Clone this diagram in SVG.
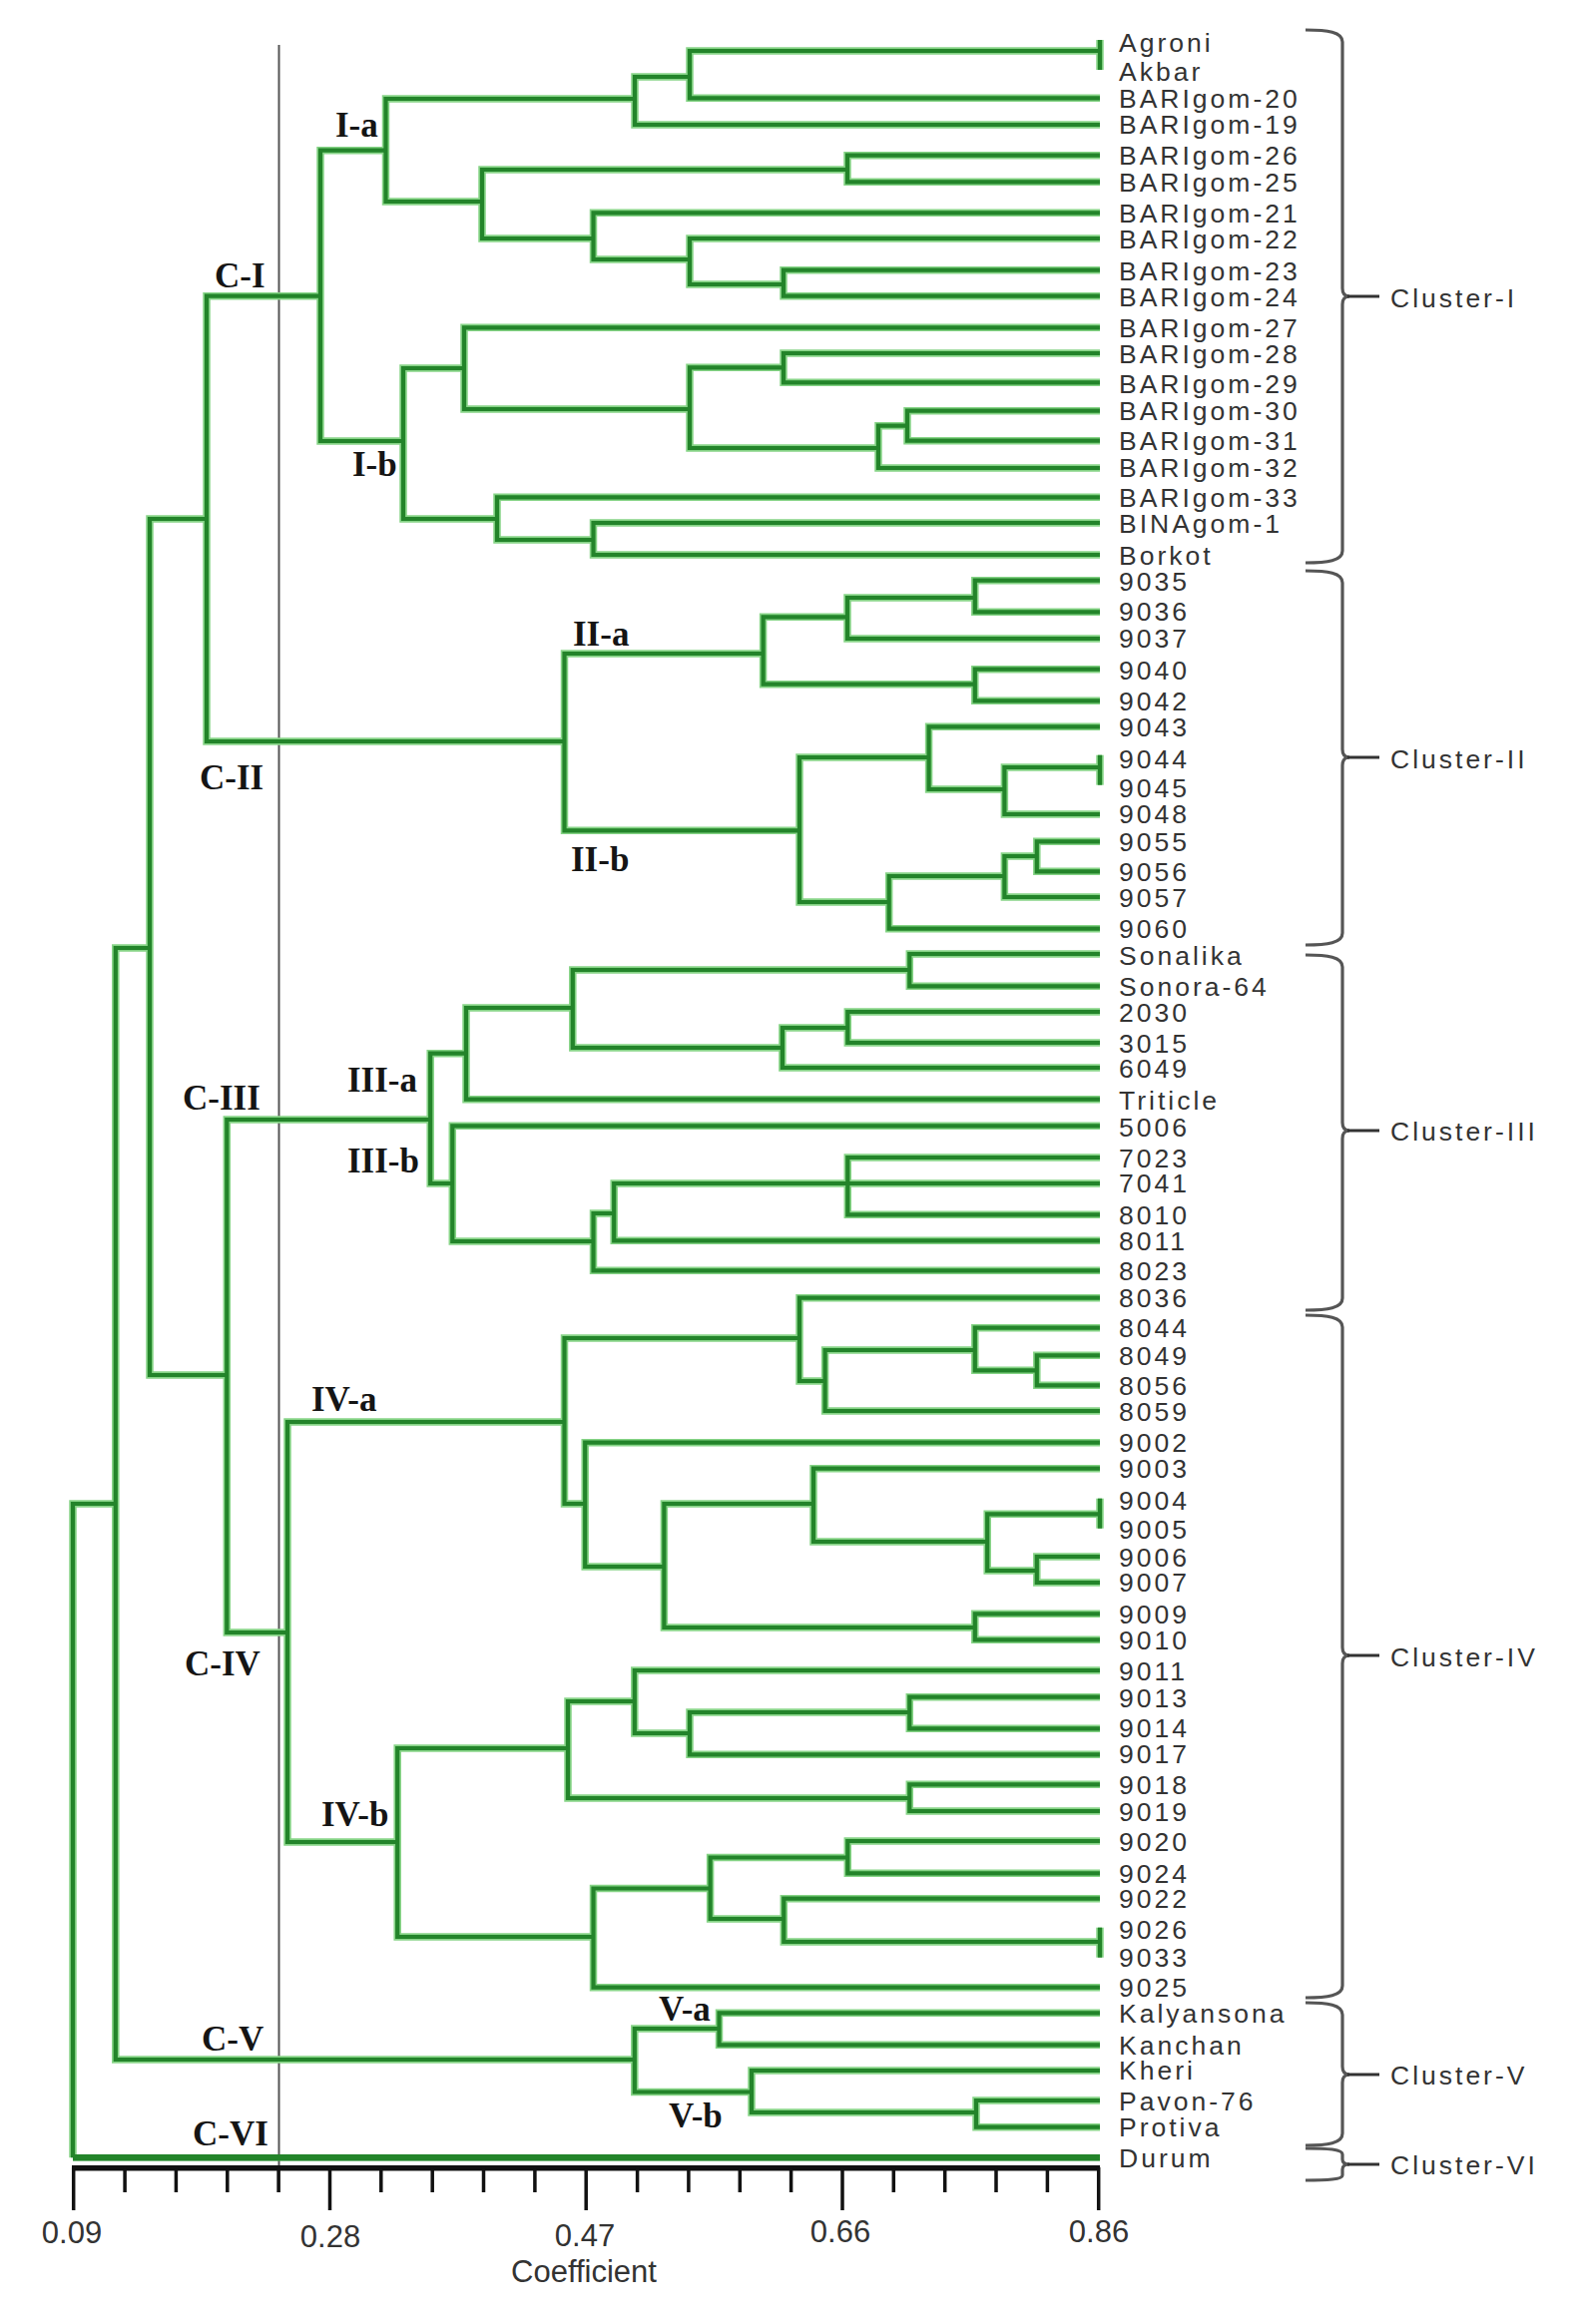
<svg xmlns="http://www.w3.org/2000/svg" xmlns:xlink="http://www.w3.org/1999/xlink" width="1585" height="2329" viewBox="0 0 1585 2329">
<style>
.leaf text{font-family:"Liberation Sans",Arial,sans-serif;font-size:26.5px;letter-spacing:3px;fill:#333}
.clabel{font-family:"Liberation Sans",Arial,sans-serif;font-size:26.5px;letter-spacing:3px;fill:#333}
.sub{font-family:"Liberation Serif","Times New Roman",serif;font-size:35px;font-weight:bold;fill:#151515}
.axt{font-family:"Liberation Sans",Arial,sans-serif;font-size:31px;fill:#333;text-anchor:middle}
.halo{fill:none;stroke:#86d486;stroke-width:7.5}
.core{fill:none;stroke:#23842a;stroke-width:4.2}
.brace{fill:none;stroke:#555;stroke-width:3.2}
.tip{fill:none;stroke:#333;stroke-width:3}
.tick{stroke:#111;stroke-width:3.5}
</style>
<defs>
<g id="tree-paths">
<path d="M1102,51 H691 V98.3 H1102"/>
<path d="M1102,40 V70"/>
<path d="M691,77 H636 V125 H1102"/>
<path d="M1102,155.7 H849 V182.3 H1102"/>
<path d="M1102,270.7 H785 V296.7 H1102"/>
<path d="M1102,239 H691 V285 H785"/>
<path d="M1102,213.3 H594.5 V260 H691"/>
<path d="M849,170 H483 V239 H594.5"/>
<path d="M636,99 H386.5 V202 H483"/>
<path d="M1102,354 H785 V383.3 H1102"/>
<path d="M1102,411.7 H909 V441.7 H1102"/>
<path d="M909,426.7 H880 V469 H1102"/>
<path d="M785,368.3 H691 V449 H880"/>
<path d="M1102,328.3 H465 V410 H691"/>
<path d="M1102,524 H594.5 V556 H1102"/>
<path d="M1102,498.3 H498 V541 H594.5"/>
<path d="M465,369 H404 V520 H498"/>
<path d="M386.5,150.7 H321 V442 H404"/>
<path d="M321,296.7 H207 V743 H565.5"/>
<path d="M1102,581.7 H976.8 V613.3 H1102"/>
<path d="M976.8,599 H849 V640 H1102"/>
<path d="M1102,670.7 H976.8 V702.3 H1102"/>
<path d="M849,618.3 H764.6 V685.7 H976.8"/>
<path d="M1102,756.7 V786.7"/>
<path d="M1102,769 H1006.4 V816 H1102"/>
<path d="M1102,728.3 H930.6 V791 H1006.4"/>
<path d="M1102,843.3 H1038.8 V873.3 H1102"/>
<path d="M1038.8,858 H1006.4 V899 H1102"/>
<path d="M1006.4,878 H890.7 V930.7 H1102"/>
<path d="M930.6,759 H801 V904 H890.7"/>
<path d="M764.6,655 H565.5 V832.3 H801"/>
<path d="M207,520 H150 V1378 H227.3"/>
<path d="M1102,956 H911.3 V988.3 H1102"/>
<path d="M1102,1014 H849.3 V1045 H1102"/>
<path d="M849.3,1030 H783.9 V1070 H1102"/>
<path d="M911.3,972 H573.8 V1050 H783.9"/>
<path d="M573.8,1010 H467 V1101.7 H1102"/>
<path d="M1102,1160 H849.3 V1217.3 H1102"/>
<path d="M1102,1186 H615.2 V1243.3 H1102"/>
<path d="M615.2,1216 H594.5 V1273.3 H1102"/>
<path d="M1102,1128.3 H453.3 V1244 H594.5"/>
<path d="M467,1055.7 H431.2 V1186 H453.3"/>
<path d="M431.2,1122 H227.3 V1636 H288"/>
<path d="M1102,1358.3 H1038.8 V1388.3 H1102"/>
<path d="M1102,1330.7 H976.8 V1373.3 H1038.8"/>
<path d="M976.8,1353 H826.6 V1414 H1102"/>
<path d="M1102,1300.7 H801 V1384 H826.6"/>
<path d="M1102,1501.7 V1531.7"/>
<path d="M1102,1560 H1038.8 V1586 H1102"/>
<path d="M1102,1517.3 H989.2 V1574 H1038.8"/>
<path d="M1102,1471.7 H815 V1545 H989.2"/>
<path d="M1102,1617.3 H976.8 V1643.3 H1102"/>
<path d="M815,1507 H665.4 V1631 H976.8"/>
<path d="M1102,1445.7 H586.2 V1570 H665.4"/>
<path d="M801,1341 H565.5 V1507 H586.2"/>
<path d="M1102,1700.7 H911.3 V1732.3 H1102"/>
<path d="M911.3,1716 H691 V1758.3 H1102"/>
<path d="M1102,1674 H635.8 V1737 H691"/>
<path d="M1102,1788.3 H911.3 V1815 H1102"/>
<path d="M635.8,1705 H569 V1802 H911.3"/>
<path d="M1102,1845 H849.3 V1877.3 H1102"/>
<path d="M1102,1931.7 V1961.7"/>
<path d="M1102,1902.7 H785.3 V1946 H1102"/>
<path d="M849.3,1861.5 H711.6 V1923 H785.3"/>
<path d="M711.6,1892.5 H594.5 V1991.7 H1102"/>
<path d="M569,1752 H398.2 V1941 H594.5"/>
<path d="M565.5,1425 H288 V1846 H398.2"/>
<path d="M1102,2017.3 H720.5 V2049.3 H1102"/>
<path d="M1102,2105 H978 V2131.7 H1102"/>
<path d="M1102,2075 H753 V2117 H978"/>
<path d="M720.5,2033 H635.8 V2096.5 H753"/>
<path d="M150,950 H115.8 V2064 H635.8"/>
<path d="M115.8,1507 H73 V2162.3"/>
<path d="M73,2162.3 H1102" stroke-width="6.5"/>
</g>
</defs>
<rect width="1585" height="2329" fill="#ffffff"/>

<g id="reference-line">
<line x1="279.5" y1="45" x2="279.5" y2="2197" stroke="#555" stroke-width="2"/>
</g>

<g id="connectors">
<use xlink:href="#tree-paths" href="#tree-paths" class="halo"/>
<use xlink:href="#tree-paths" href="#tree-paths" class="core"/>
</g>

<g id="axis">
<line x1="72" y1="2172.7" x2="1102" y2="2172.7" stroke="#111" stroke-width="5.5"/>
<path class="tick" d="M73.7,2172 V2215 M125.1,2172 V2197 M176.4,2172 V2197 M227.8,2172 V2197 M279.1,2172 V2197 M330.5,2172 V2215 M381.8,2172 V2197 M433.2,2172 V2197 M484.5,2172 V2197 M535.9,2172 V2197 M587.2,2172 V2215 M638.6,2172 V2197 M689.9,2172 V2197 M741.3,2172 V2197 M792.6,2172 V2197 M844,2172 V2215 M895.3,2172 V2197 M946.7,2172 V2197 M998,2172 V2197 M1049.4,2172 V2197 M1100.7,2172 V2215"/>
<text class="axt" x="72" y="2248">0.09</text>
<text class="axt" x="331" y="2252">0.28</text>
<text class="axt" x="586" y="2251">0.47</text>
<text class="axt" x="842" y="2247">0.66</text>
<text class="axt" x="1101" y="2247">0.86</text>
<text class="axt" x="585" y="2287">Coefficient</text>
</g>

<g id="subcluster-labels">
<g id="lbl-C-I"><text class="sub" x="215" y="288">C-I</text></g>
<g id="lbl-I-a"><text class="sub" x="336" y="137">I-a</text></g>
<g id="lbl-I-b"><text class="sub" x="353" y="477">I-b</text></g>
<g id="lbl-II-a"><text class="sub" x="574" y="647">II-a</text></g>
<g id="lbl-C-II"><text class="sub" x="200" y="791">C-II</text></g>
<g id="lbl-II-b"><text class="sub" x="572" y="873">II-b</text></g>
<g id="lbl-III-a"><text class="sub" x="348" y="1094">III-a</text></g>
<g id="lbl-C-III"><text class="sub" x="183" y="1112">C-III</text></g>
<g id="lbl-III-b"><text class="sub" x="348" y="1175">III-b</text></g>
<g id="lbl-IV-a"><text class="sub" x="312" y="1414">IV-a</text></g>
<g id="lbl-C-IV"><text class="sub" x="185" y="1679">C-IV</text></g>
<g id="lbl-IV-b"><text class="sub" x="322" y="1830">IV-b</text></g>
<g id="lbl-V-a"><text class="sub" x="660" y="2025">V-a</text></g>
<g id="lbl-C-V"><text class="sub" x="202" y="2055">C-V</text></g>
<g id="lbl-V-b"><text class="sub" x="670" y="2132">V-b</text></g>
<g id="lbl-C-VI"><text class="sub" x="193" y="2150">C-VI</text></g>
</g>

<g id="leaves">
<g id="leaf-Agroni" class="leaf"><text x="1121" y="51.5">Agroni</text></g>
<g id="leaf-Akbar" class="leaf"><text x="1121" y="80.5">Akbar</text></g>
<g id="leaf-BARIgom-20" class="leaf"><text x="1121" y="108">BARIgom-20</text></g>
<g id="leaf-BARIgom-19" class="leaf"><text x="1121" y="133.5">BARIgom-19</text></g>
<g id="leaf-BARIgom-26" class="leaf"><text x="1121" y="165">BARIgom-26</text></g>
<g id="leaf-BARIgom-25" class="leaf"><text x="1121" y="191.5">BARIgom-25</text></g>
<g id="leaf-BARIgom-21" class="leaf"><text x="1121" y="222.5">BARIgom-21</text></g>
<g id="leaf-BARIgom-22" class="leaf"><text x="1121" y="248.5">BARIgom-22</text></g>
<g id="leaf-BARIgom-23" class="leaf"><text x="1121" y="280.5">BARIgom-23</text></g>
<g id="leaf-BARIgom-24" class="leaf"><text x="1121" y="306.5">BARIgom-24</text></g>
<g id="leaf-BARIgom-27" class="leaf"><text x="1121" y="337.5">BARIgom-27</text></g>
<g id="leaf-BARIgom-28" class="leaf"><text x="1121" y="363.5">BARIgom-28</text></g>
<g id="leaf-BARIgom-29" class="leaf"><text x="1121" y="393.5">BARIgom-29</text></g>
<g id="leaf-BARIgom-30" class="leaf"><text x="1121" y="420.5">BARIgom-30</text></g>
<g id="leaf-BARIgom-31" class="leaf"><text x="1121" y="450.5">BARIgom-31</text></g>
<g id="leaf-BARIgom-32" class="leaf"><text x="1121" y="478">BARIgom-32</text></g>
<g id="leaf-BARIgom-33" class="leaf"><text x="1121" y="508">BARIgom-33</text></g>
<g id="leaf-BINAgom-1" class="leaf"><text x="1121" y="533.5">BINAgom-1</text></g>
<g id="leaf-Borkot" class="leaf"><text x="1121" y="565.5">Borkot</text></g>
<g id="leaf-9035" class="leaf"><text x="1121" y="591.5">9035</text></g>
<g id="leaf-9036" class="leaf"><text x="1121" y="622">9036</text></g>
<g id="leaf-9037" class="leaf"><text x="1121" y="649">9037</text></g>
<g id="leaf-9040" class="leaf"><text x="1121" y="680.5">9040</text></g>
<g id="leaf-9042" class="leaf"><text x="1121" y="712">9042</text></g>
<g id="leaf-9043" class="leaf"><text x="1121" y="737.5">9043</text></g>
<g id="leaf-9044" class="leaf"><text x="1121" y="769.5">9044</text></g>
<g id="leaf-9045" class="leaf"><text x="1121" y="798.5">9045</text></g>
<g id="leaf-9048" class="leaf"><text x="1121" y="825">9048</text></g>
<g id="leaf-9055" class="leaf"><text x="1121" y="852.8">9055</text></g>
<g id="leaf-9056" class="leaf"><text x="1121" y="882.5">9056</text></g>
<g id="leaf-9057" class="leaf"><text x="1121" y="909">9057</text></g>
<g id="leaf-9060" class="leaf"><text x="1121" y="940">9060</text></g>
<g id="leaf-Sonalika" class="leaf"><text x="1121" y="966.5">Sonalika</text></g>
<g id="leaf-Sonora-64" class="leaf"><text x="1121" y="997.5">Sonora-64</text></g>
<g id="leaf-2030" class="leaf"><text x="1121" y="1023.5">2030</text></g>
<g id="leaf-3015" class="leaf"><text x="1121" y="1054.5">3015</text></g>
<g id="leaf-6049" class="leaf"><text x="1121" y="1080">6049</text></g>
<g id="leaf-Triticle" class="leaf"><text x="1121" y="1111.5">Triticle</text></g>
<g id="leaf-5006" class="leaf"><text x="1121" y="1138.5">5006</text></g>
<g id="leaf-7023" class="leaf"><text x="1121" y="1169.5">7023</text></g>
<g id="leaf-7041" class="leaf"><text x="1121" y="1195">7041</text></g>
<g id="leaf-8010" class="leaf"><text x="1121" y="1227">8010</text></g>
<g id="leaf-8011" class="leaf"><text x="1121" y="1252.5">8011</text></g>
<g id="leaf-8023" class="leaf"><text x="1121" y="1282.8">8023</text></g>
<g id="leaf-8036" class="leaf"><text x="1121" y="1310">8036</text></g>
<g id="leaf-8044" class="leaf"><text x="1121" y="1340.2">8044</text></g>
<g id="leaf-8049" class="leaf"><text x="1121" y="1367.5">8049</text></g>
<g id="leaf-8056" class="leaf"><text x="1121" y="1397.5">8056</text></g>
<g id="leaf-8059" class="leaf"><text x="1121" y="1423.5">8059</text></g>
<g id="leaf-9002" class="leaf"><text x="1121" y="1455">9002</text></g>
<g id="leaf-9003" class="leaf"><text x="1121" y="1481">9003</text></g>
<g id="leaf-9004" class="leaf"><text x="1121" y="1512.5">9004</text></g>
<g id="leaf-9005" class="leaf"><text x="1121" y="1541.5">9005</text></g>
<g id="leaf-9006" class="leaf"><text x="1121" y="1569.5">9006</text></g>
<g id="leaf-9007" class="leaf"><text x="1121" y="1595">9007</text></g>
<g id="leaf-9009" class="leaf"><text x="1121" y="1626.5">9009</text></g>
<g id="leaf-9010" class="leaf"><text x="1121" y="1652.8">9010</text></g>
<g id="leaf-9011" class="leaf"><text x="1121" y="1684">9011</text></g>
<g id="leaf-9013" class="leaf"><text x="1121" y="1710.5">9013</text></g>
<g id="leaf-9014" class="leaf"><text x="1121" y="1741.3">9014</text></g>
<g id="leaf-9017" class="leaf"><text x="1121" y="1767.3">9017</text></g>
<g id="leaf-9018" class="leaf"><text x="1121" y="1797.8">9018</text></g>
<g id="leaf-9019" class="leaf"><text x="1121" y="1824.5">9019</text></g>
<g id="leaf-9020" class="leaf"><text x="1121" y="1855">9020</text></g>
<g id="leaf-9024" class="leaf"><text x="1121" y="1886.5">9024</text></g>
<g id="leaf-9022" class="leaf"><text x="1121" y="1912">9022</text></g>
<g id="leaf-9026" class="leaf"><text x="1121" y="1942.5">9026</text></g>
<g id="leaf-9033" class="leaf"><text x="1121" y="1971">9033</text></g>
<g id="leaf-9025" class="leaf"><text x="1121" y="2001">9025</text></g>
<g id="leaf-Kalyansona" class="leaf"><text x="1121" y="2027">Kalyansona</text></g>
<g id="leaf-Kanchan" class="leaf"><text x="1121" y="2058.5">Kanchan</text></g>
<g id="leaf-Kheri" class="leaf"><text x="1121" y="2084">Kheri</text></g>
<g id="leaf-Pavon-76" class="leaf"><text x="1121" y="2114.5">Pavon-76</text></g>
<g id="leaf-Protiva" class="leaf"><text x="1121" y="2140.8">Protiva</text></g>
<g id="leaf-Durum" class="leaf"><text x="1121" y="2172">Durum</text></g>
</g>

<g id="clusters">
<g id="cluster-I">
<path class="brace" d="M1308,30 C1330,30 1345,32 1345,42 L1345,289 C1345,294 1347,297 1352,297 C1347,297 1345,300 1345,305 L1345,552 C1345,562 1330,564 1308,564"/>
<path class="tip" d="M1350,297 H1382"/>
<text class="clabel" x="1393" y="307.5">Cluster-I</text>
</g>
<g id="cluster-II">
<path class="brace" d="M1308,572 C1330,572 1345,574 1345,584 L1345,751 C1345,756 1347,759 1352,759 C1347,759 1345,762 1345,767 L1345,935 C1345,945 1330,947 1308,947"/>
<path class="tip" d="M1350,759 H1382"/>
<text class="clabel" x="1393" y="769.5">Cluster-II</text>
</g>
<g id="cluster-III">
<path class="brace" d="M1308,957 C1330,957 1345,959 1345,969 L1345,1125 C1345,1130 1347,1133 1352,1133 C1347,1133 1345,1136 1345,1141 L1345,1301 C1345,1311 1330,1313 1308,1313"/>
<path class="tip" d="M1350,1133 H1382"/>
<text class="clabel" x="1393" y="1142.5">Cluster-III</text>
</g>
<g id="cluster-IV">
<path class="brace" d="M1308,1318 C1330,1318 1345,1320 1345,1330 L1345,1651 C1345,1656 1347,1659 1352,1659 C1347,1659 1345,1662 1345,1667 L1345,1990 C1345,2000 1330,2002 1308,2002"/>
<path class="tip" d="M1350,1659 H1382"/>
<text class="clabel" x="1393" y="1669.5">Cluster-IV</text>
</g>
<g id="cluster-V">
<path class="brace" d="M1308,2007 C1330,2007 1345,2009 1345,2019 L1345,2071 C1345,2076 1347,2079 1352,2079 C1347,2079 1345,2082 1345,2087 L1345,2138 C1345,2148 1330,2150 1308,2150"/>
<path class="tip" d="M1350,2079 H1382"/>
<text class="clabel" x="1393" y="2088.8">Cluster-V</text>
</g>
<g id="cluster-VI">
<path class="brace" d="M1308,2153 C1330,2153 1345,2154 1345,2159 L1345,2164 C1345,2167 1347,2169 1352,2169 C1347,2169 1345,2171 1345,2174 L1345,2180 C1345,2184 1330,2185 1308,2185"/>
<path class="tip" d="M1350,2169 H1382"/>
<text class="clabel" x="1393" y="2178.8">Cluster-VI</text>
</g>
</g>
</svg>
